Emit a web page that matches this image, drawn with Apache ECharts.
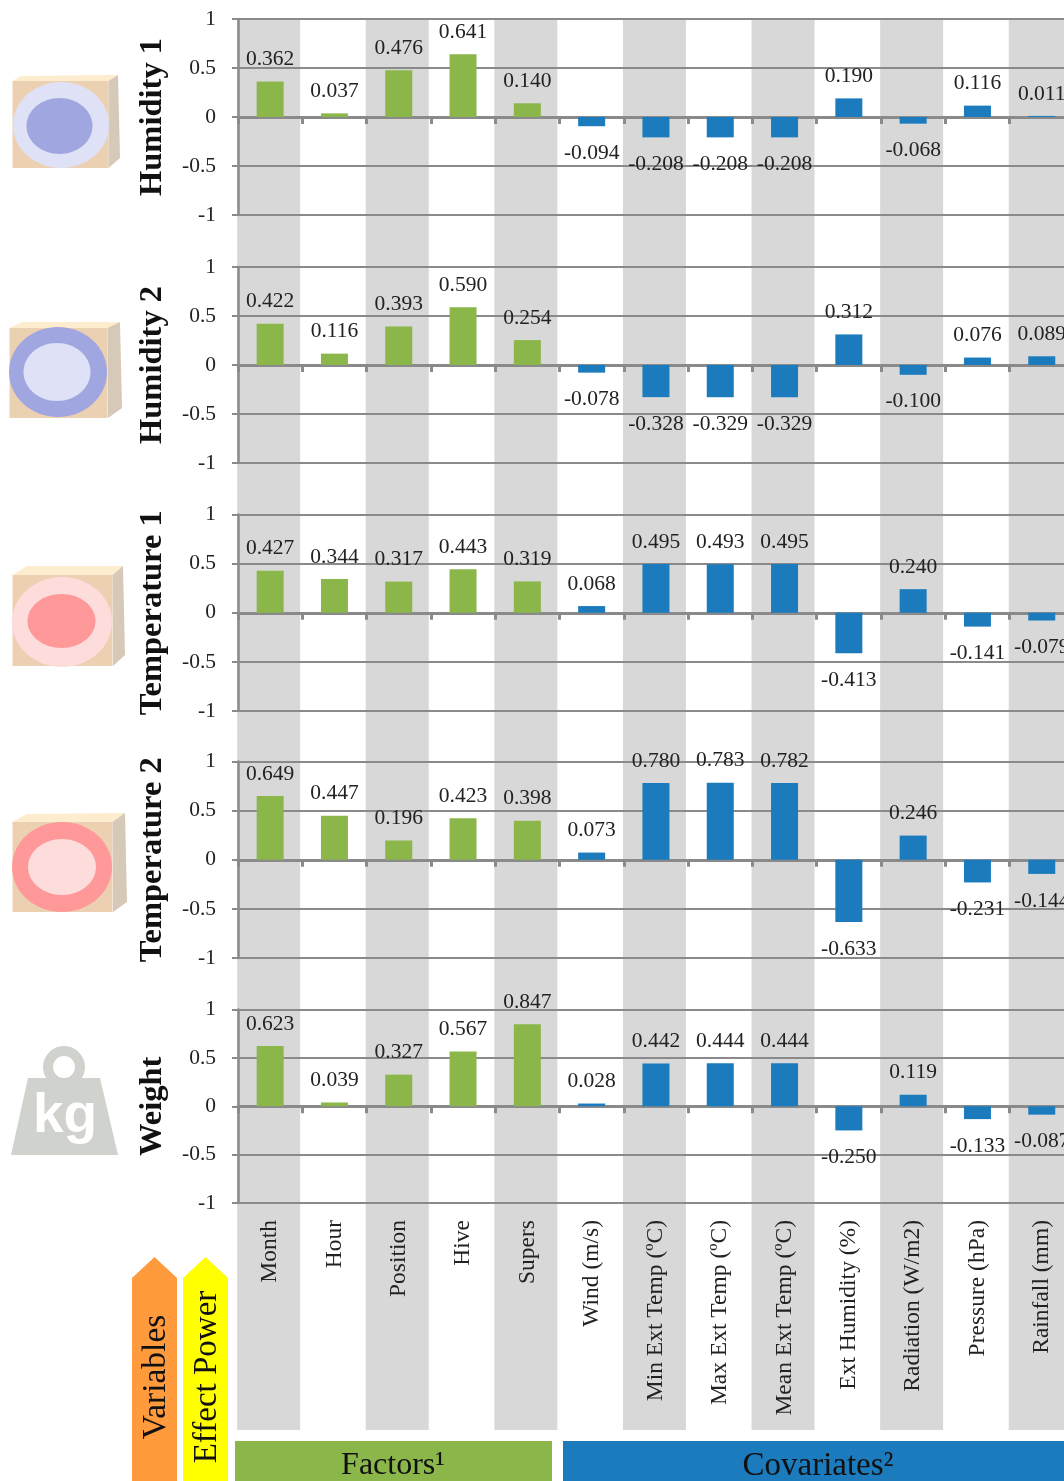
<!DOCTYPE html>
<html><head><meta charset="utf-8">
<style>html,body{margin:0;padding:0;background:#fff}#c{width:1064px;height:1481px}</style>
<script src="https://cdn.jsdelivr.net/npm/echarts@6/dist/echarts.min.js"></script>
</head><body><div id="c"></div>
<script>
const categories = ['Month','Hour','Position','Hive','Supers','Wind (m/s)','Min Ext Temp (ºC)','Max Ext Temp (ºC)','Mean Ext Temp (ºC)','Ext Humidity (%)','Radiation (W/m2)','Pressure (hPa)','Rainfall (mm)'];
const rowNames = ['Humidity 1','Humidity 2','Temperature 1','Temperature 2','Weight'];
const humidity1 = [0.362,0.037,0.476,0.641,0.140,-0.094,-0.208,-0.208,-0.208,0.190,-0.068,0.116,0.011];
const humidity2 = [0.422,0.116,0.393,0.590,0.254,-0.078,-0.328,-0.329,-0.329,0.312,-0.100,0.076,0.089];
const temperature1 = [0.427,0.344,0.317,0.443,0.319,0.068,0.495,0.493,0.495,-0.413,0.240,-0.141,-0.079];
const temperature2 = [0.649,0.447,0.196,0.423,0.398,0.073,0.780,0.783,0.782,-0.633,0.246,-0.231,-0.144];
const weight = [0.623,0.039,0.327,0.567,0.847,0.028,0.442,0.444,0.444,-0.250,0.119,-0.133,-0.087];
const rowValues = [humidity1,humidity2,temperature1,temperature2,weight];
const factorCount = 5;
const stripeFlags = [1,null,1,null,1,null,1,null,1,null,1,null,1];
const yTicks = {min:-1,max:1,interval:0.5};

const SERIF = '"Liberation Serif","DejaVu Serif",serif';
const GREY = '#8a8a8a', TEXT = '#222222';
const GREEN = '#8ab64a', BLUE = '#1b7bbd';
const rowLayout = [[19,196],[267,196],[514.5,196.5],[761.5,196.5],[1009.5,193.5]];
const left = 238, catW = 64.3, plotW = catW * categories.length;

const grids = [{left:236.5, top:19, width:plotW, height:1411, outerBoundsMode:'none'}];
const xAxes = [{gridIndex:0,type:'category',data:categories,show:false}];
const yAxes = [{gridIndex:0,type:'value',min:0,max:1,show:false}];
const series = [{type:'bar',xAxisIndex:0,yAxisIndex:0,data:stripeFlags,barWidth:63,z:-1,silent:true,
  itemStyle:{color:'#d8d8d8'},label:{show:false}}];

rowValues.forEach((vals,i)=>{
  const g=i+1,last=i===rowValues.length-1;
  grids.push({left,top:rowLayout[i][0],width:plotW,height:rowLayout[i][1],outerBoundsMode:'none'});
  xAxes.push({gridIndex:g,type:'category',data:categories,
    axisLine:{show:true,onZero:true,lineStyle:{color:GREY,width:3}},
    axisTick:{show:true,interval:0,length:7,lineStyle:{color:GREY,width:3}},
    splitLine:{show:false},
    axisLabel:last?{show:true,interval:0,rotate:90,margin:17,fontFamily:SERIF,fontSize:23.5,color:TEXT,hideOverlap:false}:{show:false,interval:0}});
  yAxes.push({gridIndex:g,type:'value',min:yTicks.min,max:yTicks.max,interval:yTicks.interval,
    name:rowNames[i],nameLocation:'middle',nameRotate:90,nameGap:69,
    nameTextStyle:{fontFamily:SERIF,fontSize:32.5,fontWeight:'bold',color:'#111'},
    axisLine:{show:true,onZero:false,lineStyle:{color:GREY,width:2.5}},
    axisTick:{show:true,length:6,lineStyle:{color:GREY,width:2}},
    splitLine:{show:true,lineStyle:{color:GREY,width:2}},
    axisLabel:{fontFamily:SERIF,fontSize:21.5,color:TEXT,margin:22,formatter:v=>String(v)}});
  series.push({type:'bar',xAxisIndex:g,yAxisIndex:g,barWidth:27,
    data:vals.map((v,k)=>({value:v,itemStyle:{color:k<factorCount?GREEN:BLUE},
      label:{position:v<0?'bottom':'top',distance:v<0?16:11}})),
    label:{show:true,fontFamily:SERIF,fontSize:21.5,color:TEXT,formatter:p=>p.value.toFixed(3)}});
});

function box(front,top,side,outer,inner){
  return [
    {type:'polygon',shape:{points:top.pts},style:{fill:'#fdeccd'}},
    {type:'polygon',shape:{points:side.pts},style:{fill:'#d6c9b8'}},
    {type:'rect',shape:front,style:{fill:'#ecd0b2'}},
    {type:'ellipse',shape:outer.s,style:{fill:outer.c}},
    {type:'ellipse',shape:inner.s,style:{fill:inner.c}}
  ];
}
const LB='#dfe1f6',B='#9fa6e0',LR='#fddcdc',R='#ff9898';
const icons=[
 ...box({x:12.5,y:81,width:96,height:87},{pts:[[12.5,81],[21,76],[118,75],[108.5,81]]},{pts:[[108.5,81],[118,75],[120,158],[108.5,168]]},
   {s:{cx:61,cy:125,rx:48,ry:43},c:LB},{s:{cx:59.5,cy:126,rx:33,ry:28},c:B}),
 ...box({x:9.5,y:328,width:98,height:90},{pts:[[9.5,328],[22,322],[120,322],[107.5,328]]},{pts:[[107.5,328],[120,322],[122,408],[108,418]]},
   {s:{cx:58,cy:372,rx:49,ry:45},c:B},{s:{cx:57,cy:372,rx:33.5,ry:29},c:LB}),
 ...box({x:12.5,y:575,width:100,height:91},{pts:[[12.5,575],[27,566],[123,566],[112.5,575]]},{pts:[[112.5,575],[123,566],[125,655],[113,666]]},
   {s:{cx:62,cy:622,rx:50,ry:45},c:LR},{s:{cx:61.5,cy:621,rx:34,ry:27},c:R}),
 ...box({x:12.5,y:822,width:100,height:90},{pts:[[12.5,822],[27,814],[125,813],[112.5,822]]},{pts:[[112.5,822],[125,813],[127,902],[113,912]]},
   {s:{cx:62,cy:867,rx:50,ry:45},c:R},{s:{cx:62,cy:867,rx:34,ry:28},c:LR}),
 {type:'ring',shape:{cx:64,cy:1067,r:21,r0:11},style:{fill:'#d0d2cd'}},
 {type:'polygon',shape:{points:[[28,1078],[100,1078],[118,1155],[11,1155]]},style:{fill:'#d0d2cd'}},
 {type:'text',x:65,y:1117,style:{text:'kg',fill:'#fff',fontFamily:'"Liberation Sans",sans-serif',fontWeight:'bold',fontSize:55,align:'center',verticalAlign:'middle'}}
];
function vtext(t,x,y,size){return {type:'text',x,y,rotation:Math.PI/2,z:10,style:{text:t,fill:'#111',fontFamily:SERIF,fontSize:size,align:'center',verticalAlign:'middle'}};}
const deco=[
 {type:'polygon',shape:{points:[[132,1481],[132,1278],[154.5,1257],[177,1278],[177,1481]]},style:{fill:'#ff9a3d'}},
 {type:'polygon',shape:{points:[[183,1481],[183,1278],[205.5,1257],[228,1278],[228,1481]]},style:{fill:'#ffff00'}},
 vtext('Variables',156,1377,33.5),
 vtext('Effect Power',207,1377,33),
 {type:'rect',shape:{x:235,y:1441,width:317,height:40},style:{fill:GREEN}},
 {type:'rect',shape:{x:563,y:1441,width:501,height:40},style:{fill:BLUE}},
 {type:'text',x:393,y:1466,style:{text:'Factors¹',fill:'#111',fontFamily:SERIF,fontSize:32,align:'center',verticalAlign:'middle'}},
 {type:'text',x:818,y:1466,style:{text:'Covariates²',fill:'#111',fontFamily:SERIF,fontSize:33,align:'center',verticalAlign:'middle'}}
];

const chart=echarts.init(document.getElementById('c'),null,{renderer:'canvas'});
chart.setOption({animation:false,backgroundColor:'#fff',tooltip:{show:false},grid:grids,xAxis:xAxes,yAxis:yAxes,series,
  graphic:{elements:[...icons,...deco]}});
</script></body></html>
